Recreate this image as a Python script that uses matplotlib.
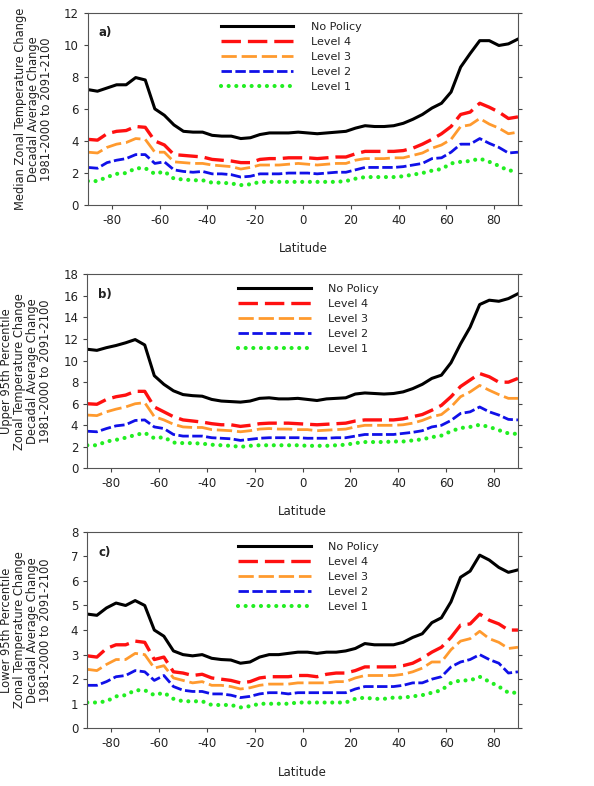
"""
Zonal temperature change by latitude for the policy levels (median, upper and lower 95th percentile).
Writes out.png
"""
import matplotlib
matplotlib.use('Agg')
import matplotlib.pyplot as plt

plt.rcParams['font.family'] = ['DejaVu Sans']
plt.rcParams['axes.unicode_minus'] = False
plt.rcParams['lines.scale_dashes'] = False

# latitude grid, 4 degree steps
lat = list(range(-90, 91, 4))

# a) median
a_nopolicy = [7.2, 7.1, 7.3, 7.5, 7.5, 7.95, 7.8, 6.0, 5.6, 5.0, 4.6, 4.55, 4.55, 4.35, 4.3, 4.3,
              4.15, 4.2, 4.4, 4.5, 4.5, 4.5, 4.55, 4.5, 4.45, 4.5, 4.55, 4.6, 4.8, 4.95, 4.9, 4.9,
              4.95, 5.1, 5.35, 5.65, 6.05, 6.35, 7.05, 8.6, 9.45, 10.25, 10.25, 9.95, 10.05, 10.35]
a_level4 = [4.1, 4.05, 4.45, 4.6, 4.65, 4.9, 4.85, 4.0, 3.75, 3.15, 3.1, 3.05, 3.0, 2.85, 2.8, 2.75,
            2.65, 2.65, 2.85, 2.9, 2.9, 2.95, 2.95, 2.95, 2.9, 2.95, 3.0, 3.0, 3.2, 3.35, 3.35, 3.35,
            3.35, 3.4, 3.55, 3.8, 4.1, 4.45, 4.9, 5.65, 5.8, 6.35, 6.1, 5.8, 5.4, 5.5]
a_level3 = [3.3, 3.25, 3.6, 3.8, 3.9, 4.15, 4.1, 3.3, 3.3, 2.7, 2.65, 2.6, 2.6, 2.5, 2.45, 2.4,
            2.25, 2.35, 2.5, 2.5, 2.5, 2.55, 2.6, 2.55, 2.5, 2.55, 2.6, 2.6, 2.8, 2.9, 2.9, 2.9,
            2.95, 2.95, 3.1, 3.25, 3.55, 3.75, 4.1, 4.9, 5.0, 5.4, 5.05, 4.8, 4.45, 4.55]
a_level2 = [2.35, 2.3, 2.65, 2.8, 2.9, 3.15, 3.15, 2.6, 2.7, 2.2, 2.1, 2.05, 2.1, 1.95, 1.95, 1.9,
            1.75, 1.8, 1.95, 1.95, 1.95, 2.0, 2.0, 2.0, 1.95, 2.0, 2.05, 2.05, 2.2, 2.35, 2.35, 2.35,
            2.35, 2.4, 2.5, 2.6, 2.9, 2.95, 3.3, 3.8, 3.8, 4.15, 3.85, 3.6, 3.25, 3.3]
a_level1 = [1.5, 1.5, 1.75, 1.95, 2.0, 2.3, 2.3, 1.95, 2.1, 1.65, 1.6, 1.55, 1.55, 1.4, 1.4, 1.35,
            1.25, 1.3, 1.45, 1.45, 1.45, 1.45, 1.45, 1.45, 1.45, 1.45, 1.45, 1.5, 1.65, 1.75, 1.75, 1.75,
            1.75, 1.8, 1.9, 2.0, 2.15, 2.25, 2.6, 2.7, 2.75, 2.9, 2.7, 2.45, 2.15, 2.15]

# b) upper 95th percentile
b_nopolicy = [11.05, 10.95, 11.2, 11.4, 11.65, 11.95, 11.45, 8.6, 7.8, 7.2, 6.85, 6.75, 6.7, 6.4, 6.25, 6.2,
              6.15, 6.25, 6.5, 6.55, 6.45, 6.45, 6.5, 6.4, 6.3, 6.45, 6.5, 6.55, 6.9, 7.0, 6.95, 6.9,
              6.95, 7.1, 7.4, 7.8, 8.35, 8.65, 9.8, 11.55, 13.1, 15.2, 15.6, 15.5, 15.75, 16.2]
b_level4 = [6.0, 5.95, 6.4, 6.65, 6.8, 7.15, 7.15, 5.7, 5.25, 4.8, 4.5, 4.4, 4.3, 4.15, 4.05, 4.05,
            3.9, 4.0, 4.15, 4.2, 4.2, 4.2, 4.15, 4.1, 4.05, 4.1, 4.15, 4.2, 4.4, 4.5, 4.5, 4.5,
            4.5, 4.6, 4.8, 5.0, 5.4, 5.85, 6.65, 7.6, 8.2, 8.8, 8.5, 8.0, 8.0, 8.35]
b_level3 = [4.95, 4.9, 5.25, 5.5, 5.7, 6.0, 6.1, 4.8, 4.5, 4.1, 3.85, 3.8, 3.8, 3.6, 3.55, 3.5,
            3.4, 3.5, 3.65, 3.7, 3.65, 3.65, 3.6, 3.6, 3.5, 3.55, 3.6, 3.65, 3.85, 4.0, 4.0, 4.0,
            4.0, 4.05, 4.2, 4.45, 4.8, 5.0, 5.7, 6.65, 7.1, 7.7, 7.25, 6.85, 6.5, 6.5]
b_level2 = [3.45, 3.4, 3.7, 3.95, 4.05, 4.45, 4.5, 3.85, 3.7, 3.15, 3.0, 3.0, 3.0, 2.85, 2.8, 2.75,
            2.6, 2.7, 2.8, 2.85, 2.85, 2.85, 2.85, 2.8, 2.8, 2.8, 2.85, 2.85, 3.0, 3.15, 3.15, 3.15,
            3.15, 3.25, 3.35, 3.5, 3.85, 4.0, 4.45, 5.1, 5.25, 5.7, 5.25, 4.95, 4.55, 4.5]
b_level1 = [2.15, 2.15, 2.5, 2.65, 2.85, 3.1, 3.3, 2.8, 2.9, 2.4, 2.35, 2.35, 2.3, 2.2, 2.15, 2.1,
            2.0, 2.1, 2.15, 2.15, 2.15, 2.15, 2.15, 2.1, 2.1, 2.1, 2.15, 2.2, 2.35, 2.45, 2.45, 2.45,
            2.5, 2.5, 2.6, 2.7, 2.9, 3.05, 3.45, 3.75, 3.85, 4.05, 3.85, 3.55, 3.25, 3.2]

# c) lower 95th percentile
c_nopolicy = [4.65, 4.6, 4.9, 5.1, 5.0, 5.2, 5.0, 4.0, 3.75, 3.15, 3.0, 2.95, 3.0, 2.85, 2.8, 2.78,
              2.65, 2.7, 2.9, 3.0, 3.0, 3.05, 3.1, 3.1, 3.05, 3.1, 3.1, 3.15, 3.25, 3.45, 3.4, 3.4,
              3.4, 3.5, 3.7, 3.85, 4.3, 4.5, 5.15, 6.15, 6.4, 7.05, 6.85, 6.55, 6.35, 6.45]
c_level4 = [2.95, 2.9, 3.25, 3.4, 3.4, 3.55, 3.5, 2.8, 2.9, 2.3, 2.25, 2.15, 2.2, 2.05, 2.0, 1.95,
            1.85, 1.9, 2.05, 2.1, 2.1, 2.1, 2.15, 2.15, 2.1, 2.2, 2.25, 2.25, 2.35, 2.5, 2.5, 2.5,
            2.5, 2.55, 2.65, 2.85, 3.1, 3.3, 3.7, 4.2, 4.25, 4.65, 4.4, 4.25, 4.0, 4.0]
c_level3 = [2.4, 2.35, 2.6, 2.8, 2.8, 3.05, 3.0, 2.45, 2.55, 2.05, 1.95, 1.85, 1.9, 1.75, 1.75, 1.7,
            1.6, 1.65, 1.75, 1.8, 1.8, 1.8, 1.85, 1.85, 1.85, 1.85, 1.9, 1.9, 2.05, 2.15, 2.15, 2.15,
            2.15, 2.2, 2.3, 2.45, 2.7, 2.7, 3.2, 3.55, 3.65, 3.95, 3.65, 3.5, 3.25, 3.3]
c_level2 = [1.75, 1.75, 1.9, 2.1, 2.15, 2.35, 2.3, 1.95, 2.15, 1.7, 1.55, 1.5, 1.5, 1.4, 1.4, 1.35,
            1.25, 1.3, 1.4, 1.45, 1.45, 1.4, 1.45, 1.45, 1.45, 1.45, 1.45, 1.45, 1.6, 1.7, 1.7, 1.7,
            1.7, 1.75, 1.85, 1.85, 2.0, 2.1, 2.5, 2.7, 2.8, 3.0, 2.8, 2.65, 2.25, 2.3]
c_level1 = [1.05, 1.05, 1.1, 1.3, 1.35, 1.55, 1.55, 1.35, 1.45, 1.2, 1.1, 1.1, 1.1, 0.95, 0.95, 0.95,
            0.85, 0.9, 1.0, 1.0, 1.0, 1.0, 1.05, 1.05, 1.05, 1.05, 1.05, 1.05, 1.2, 1.25, 1.2, 1.2,
            1.25, 1.25, 1.3, 1.35, 1.45, 1.55, 1.85, 1.95, 1.95, 2.1, 1.9, 1.7, 1.45, 1.45]

series_labels = ['No Policy', 'Level 4', 'Level 3', 'Level 2', 'Level 1']
panel_tags = ['a)', 'b)', 'c)']
ylabels = [
    'Median Zonal Temperature Change\nDecadal Average Change\n1981-2000 to 2091-2100',
    'Upper 95th Percentile\nZonal Temperature Change\nDecadal Average Change\n1981-2000 to 2091-2100',
    'Lower 95th Percentile\nZonal Temperature Change\nDecadal Average Change\n1981-2000 to 2091-2100',
]
ylims = [(0, 12), (0, 18), (0, 8)]
ysteps = [2, 2, 1]
xticks = [-80, -60, -40, -20, 0, 20, 40, 60, 80]

panels = [
    [a_nopolicy, a_level4, a_level3, a_level2, a_level1],
    [b_nopolicy, b_level4, b_level3, b_level2, b_level1],
    [c_nopolicy, c_level4, c_level3, c_level2, c_level1],
]

styles = [
    dict(color='black', lw=2.2, linestyle='-'),
    dict(color='#ff1010', lw=2.4, dashes=(14, 5)),
    dict(color='#ff9a2e', lw=2.0, dashes=(11, 3.5)),
    dict(color='#1010e8', lw=2.0, dashes=(7.5, 2.5)),
    dict(color='#22ee22', lw=3.0, dashes=(0.01, 5.5), dash_capstyle='round'),
]

# axes rectangles in figure fractions [left, bottom, width, height]
rects = [
    [0.148, 0.739, 0.724, 0.245],
    [0.147, 0.404, 0.725, 0.247],
    [0.147, 0.0734, 0.725, 0.250],
]
legend_x = [0.309, 0.351, 0.351]

fig = plt.figure(figsize=(5.94, 7.86), dpi=100)
text_col = '#222222'

for i, data in enumerate(panels):
    ax = fig.add_axes(rects[i])
    for vals, lab, st in zip(data, series_labels, styles):
        ax.plot(lat, vals, label=lab, **st)

    ax.set_xlim(-90, 90)
    ax.set_ylim(*ylims[i])
    ax.set_xticks(xticks)
    lo, hi = ylims[i]
    ax.set_yticks(list(range(lo, hi + 1, ysteps[i])))
    ax.tick_params(axis='both', labelsize=8.5, colors='#444444', labelcolor=text_col,
                   length=3, width=0.8, direction='out')
    ax.tick_params(axis='y', right=True, which='both')
    for sp in ax.spines.values():
        sp.set_color('#555555')
        sp.set_linewidth(0.8)

    ax.set_xlabel('Latitude', fontsize=8.5, color=text_col)
    ax.xaxis.set_label_coords(0.5, -0.19)
    ax.set_ylabel(ylabels[i], fontsize=8.3, color=text_col, linespacing=1.0)
    ax.yaxis.set_label_coords(-0.082, 0.5)

    ax.text(0.025, 0.93, panel_tags[i], transform=ax.transAxes, fontsize=8.5,
            fontweight='bold', va='top', ha='left', color=text_col)

    ax.legend(loc='upper left', bbox_to_anchor=(legend_x[i], 0.95), frameon=False,
              fontsize=8, handlelength=6.5, handletextpad=1.6, labelspacing=0.45,
              borderpad=0, borderaxespad=0, labelcolor=text_col)

fig.savefig('out.png', dpi=100)
plt.close(fig)
print('Wrote out.png')
